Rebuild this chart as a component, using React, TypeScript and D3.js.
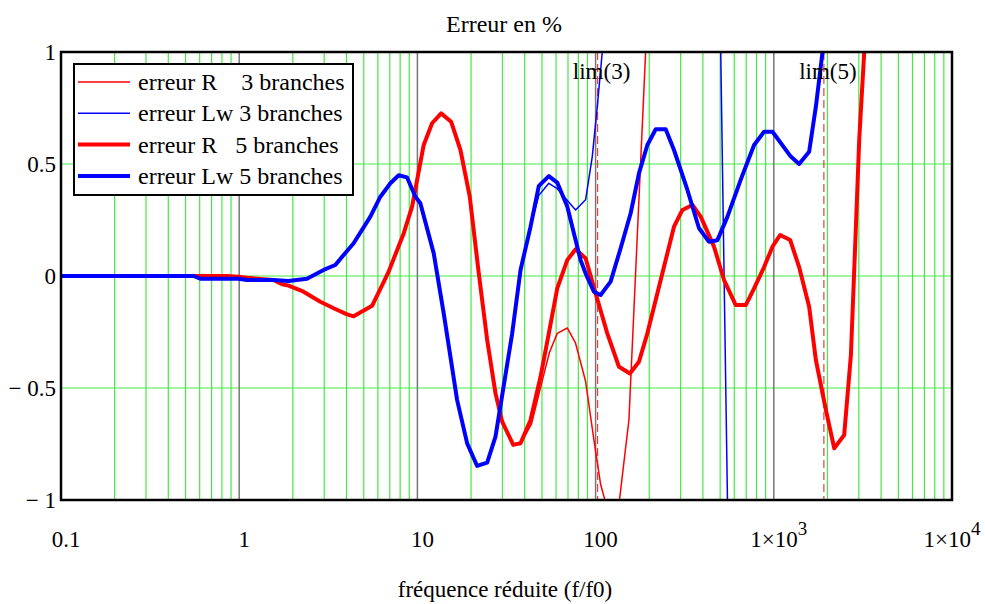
import React from 'react';
import * as d3 from 'd3';

// Data: [reduced frequency f/f0, error %]
const errR3: [number, number][] = [
  [0.1, 0], [0.853, 0], [0.991, -0.003], [1.105, -0.008], [1.558, -0.018], [1.738, -0.037], [1.892, -0.043],
  [2.297, -0.07], [2.852, -0.115], [3.387, -0.144], [4.029, -0.171], [4.387, -0.18], [5.567, -0.133],
  [6.901, 0.02], [8.375, 0.19], [9.337, 0.31], [10.85, 0.585], [12.09, 0.682], [13.59, 0.726], [15.46, 0.689],
  [17.44, 0.5625], [19.67, 0.354], [22.1, 0.012], [24.64, -0.286], [27.43, -0.524], [29.91, -0.65],
  [34.48, -0.754], [37.91, -0.75], [43.7, -0.66], [49.73, -0.48], [55.15, -0.34], [60.92, -0.256],
  [69.34, -0.232], [77.2, -0.3], [87.86, -0.47], [97.8, -0.73], [106.7, -0.93], [116.3, -1.04],
  [124.6, -1.15], [135.2, -1.02], [153.8, -0.643], [190.9, 1.0], [200, 1.2],
];

const errLw3: [number, number][] = [
  [0.1, 0], [0.554, 0], [0.604, -0.012], [0.991, -0.012], [1.105, -0.018], [1.558, -0.018], [1.892, -0.022],
  [2.4, -0.012], [2.976, 0.027], [3.462, 0.049], [3.855, 0.094], [4.387, 0.146], [5.445, 0.265],
  [6.197, 0.354], [7.053, 0.414], [7.852, 0.45], [8.753, 0.44], [9.745, 0.354], [10.39, 0.325],
  [12.35, 0.101], [14.05, -0.167], [16.71, -0.554], [19.02, -0.747], [21.64, -0.848], [24.64, -0.833],
  [27.43, -0.717], [34.04, -0.256], [37.91, 0.027], [43.14, 0.22], [48.03, 0.36], [54.64, 0.414],
  [60.92, 0.39], [77.2, 0.295], [87.86, 0.34], [95.8, 0.533], [102.2, 0.756], [109, 1.0], [116, 1.5],
  [480, 1.5], [503.7, 1.0], [549.5, -1.0], [570, -1.5],
];

const errR5: [number, number][] = [
  [0.1, 0], [0.853, 0], [0.991, -0.003], [1.105, -0.008], [1.558, -0.018], [1.738, -0.037], [1.892, -0.043],
  [2.297, -0.07], [2.852, -0.115], [3.387, -0.144], [4.029, -0.171], [4.387, -0.18], [5.567, -0.133],
  [6.901, 0.02], [8.375, 0.19], [9.337, 0.31], [10.85, 0.585], [12.09, 0.682], [13.59, 0.726], [15.46, 0.689],
  [17.44, 0.5625], [19.67, 0.354], [22.1, 0.012], [24.64, -0.286], [27.43, -0.524], [29.91, -0.65],
  [34.48, -0.754], [37.91, -0.747], [43.14, -0.643], [49.09, -0.45], [54.64, -0.256], [60.92, -0.055],
  [69.34, 0.071], [77.2, 0.119], [87.86, 0.079], [100, -0.077], [116.3, -0.256], [135.2, -0.405],
  [155.8, -0.435], [175.1, -0.383], [195.2, -0.256], [217.4, -0.107], [275.4, 0.22], [307, 0.295],
  [349.4, 0.317], [388.9, 0.265], [461.8, 0.131], [525.8, -0.018], [611.8, -0.13], [696.1, -0.13],
  [775.1, -0.055], [882, 0.04], [983.3, 0.131], [1085, 0.183], [1235, 0.161], [1387, 0.04], [1579, -0.137],
  [1722, -0.375], [1960, -0.598], [2183, -0.769], [2483, -0.71], [2708, -0.353], [2889, 0.22],
  [3015, 0.607], [3217, 1.0], [3400, 1.4],
];

const errLw5: [number, number][] = [
  [0.1, 0], [0.554, 0], [0.604, -0.012], [0.991, -0.012], [1.105, -0.018], [1.558, -0.018], [1.892, -0.022],
  [2.4, -0.012], [2.976, 0.027], [3.462, 0.049], [3.855, 0.094], [4.387, 0.146], [5.445, 0.265],
  [6.197, 0.354], [7.053, 0.414], [7.852, 0.45], [8.753, 0.44], [9.745, 0.354], [10.39, 0.325],
  [12.35, 0.101], [14.05, -0.167], [16.71, -0.554], [19.02, -0.747], [21.64, -0.848], [24.64, -0.833],
  [27.43, -0.717], [34.04, -0.256], [37.91, 0.027], [43.14, 0.22], [48.03, 0.402], [54.64, 0.446],
  [60.92, 0.417], [69.34, 0.31], [77.2, 0.161], [82.35, 0.071], [87.86, 0.012], [97.8, -0.07],
  [106.7, -0.085], [121.4, -0.025], [138.2, 0.124], [157.3, 0.28], [175.1, 0.458], [195.2, 0.585],
  [217.4, 0.655], [247.4, 0.655], [275.4, 0.5625], [327.5, 0.384], [380.5, 0.213], [433, 0.153],
  [482.6, 0.16], [549.5, 0.265], [652.5, 0.43], [775.1, 0.585], [882, 0.644], [983.3, 0.644],
  [1246, 0.533], [1387, 0.5], [1579, 0.555], [1722, 0.756], [1877, 1.0], [2000, 1.3],
];

const limits = [
  { label: 'lim(3)', f: 102.6 },
  { label: 'lim(5)', f: 1910 },
];

const xTickValues = [0.1, 1, 10, 100, 1000, 10000];
const xTickLabels = [
  { base: '0.1', sup: '' },
  { base: '1', sup: '' },
  { base: '10', sup: '' },
  { base: '100', sup: '' },
  { base: '1×10', sup: '3' },
  { base: '1×10', sup: '4' },
];
const yTickValues = [1, 0.5, 0, -0.5, -1];
const yTickLabels = ['1', '0.5', '0', '− 0.5', '− 1'];
const yGridValues = [0.5, 0, -0.5];

const series = [
  { label: 'erreur R    3 branches', data: errR3, color: '#ff0000', width: 1.5 },
  { label: 'erreur Lw 3 branches', data: errLw3, color: '#0000ff', width: 1.5 },
  { label: 'erreur R   5 branches', data: errR5, color: '#ff0000', width: 4 },
  { label: 'erreur Lw 5 branches', data: errLw5, color: '#0000ff', width: 4 },
];

const title = 'Erreur en %';
const xTitle = 'fréquence réduite (f/f0)';

export default function App() {
  const W = 985, H = 604;
  const m = { left: 61, top: 52, right: 952, bottom: 500 };
  const x = d3.scaleLog().domain([0.1, 10000]).range([m.left, m.right]);
  const y = d3.scaleLinear().domain([-1, 1]).range([m.bottom, m.top]);
  const font = "'Liberation Serif', 'Times New Roman', serif";

  const minor: number[] = [];
  for (let e = -1; e < 4; e++) for (let k = 2; k <= 9; k++) minor.push(k * Math.pow(10, e));
  const decades = [1, 10, 100, 1000];

  const line = d3.line<[number, number]>().x(d => x(d[0])).y(d => y(d[1]));

  const legend = { x: 74, y: 64, w: 279, h: 131, row: 31.3 };

  return (
    <svg width={W} height={H} style={{ position: 'absolute', left: 0, top: 0, background: '#fff' }} fontFamily={font}>
      <defs>
        <clipPath id="plotclip">
          <rect x={m.left} y={m.top} width={m.right - m.left} height={m.bottom - m.top} />
        </clipPath>
      </defs>
      <text x={504} y={32} textAnchor="middle" fontSize={24}>{title}</text>
      {/* grid */}
      {minor.map((v, i) => (
        <line key={'mn' + i} x1={x(v)} x2={x(v)} y1={m.top} y2={m.bottom} stroke="#44ea44" strokeWidth={1.2} />
      ))}
      {yGridValues.map((v, i) => (
        <line key={'yg' + i} x1={m.left} x2={m.right} y1={y(v)} y2={y(v)} stroke="#44ea44" strokeWidth={1.2} />
      ))}
      {decades.map((v, i) => (
        <line key={'dc' + i} x1={x(v)} x2={x(v)} y1={m.top} y2={m.bottom} stroke="#777" strokeWidth={1.5} />
      ))}
      {limits.map((l, i) => (
        <line key={'lm' + i} x1={x(l.f)} x2={x(l.f)} y1={m.top} y2={m.bottom} stroke="#e04040" strokeWidth={1.2} strokeDasharray="8,4" />
      ))}
      <g clipPath="url(#plotclip)">
        {series.map((s, i) => (
          <path key={'s' + i} d={line(s.data) || ''} fill="none" stroke={s.color} strokeWidth={s.width} strokeLinejoin="round" />
        ))}
      </g>
      {limits.map((l, i) => (
        <text key={'lt' + i} x={x(l.f) + 4} y={79} textAnchor="middle" fontSize={23}>{l.label}</text>
      ))}
      {/* frame */}
      <rect x={m.left} y={m.top} width={m.right - m.left} height={m.bottom - m.top} fill="none" stroke="#000" strokeWidth={2.5} />
      {/* y ticks */}
      {yTickValues.map((v, i) => (
        <text key={'yt' + i} x={56} y={y(v) + 8} textAnchor="end" fontSize={23} style={{ whiteSpace: 'pre' }}>{yTickLabels[i]}</text>
      ))}
      {/* x ticks */}
      {xTickValues.map((v, i) => {
        const lbl = xTickLabels[i];
        const last = i === xTickValues.length - 1;
        const cx = last ? x(v) : x(v) + 5;
        return (
          <text key={'xt' + i} x={cx} y={547} textAnchor="middle" fontSize={23}>
            {lbl.base}
            {lbl.sup ? <tspan dy={-12} fontSize={19}>{lbl.sup}</tspan> : null}
          </text>
        );
      })}
      <text x={505} y={597} textAnchor="middle" fontSize={23}>{xTitle}</text>
      {/* legend */}
      <rect x={legend.x} y={legend.y} width={legend.w} height={legend.h} fill="#fff" stroke="#000" strokeWidth={2} />
      {series.map((s, i) => {
        const ly = legend.y + 18 + i * legend.row;
        return (
          <g key={'lg' + i}>
            <line x1={legend.x + 4} x2={legend.x + 56} y1={ly} y2={ly} stroke={s.color} strokeWidth={s.width} />
            <text x={legend.x + 64} y={ly + 8} fontSize={24} style={{ whiteSpace: 'pre' }}>{s.label}</text>
          </g>
        );
      })}
    </svg>
  );
}
